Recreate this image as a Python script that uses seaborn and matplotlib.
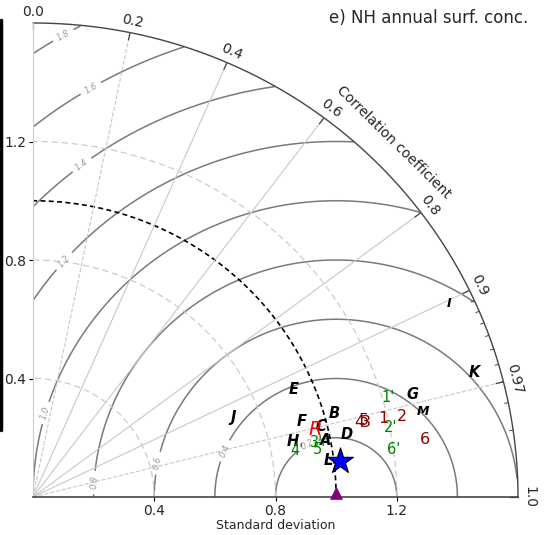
import numpy as np
import matplotlib.pyplot as plt
import seaborn as sns
from matplotlib.lines import Line2D

# models as black italic letters: normalised std and correlation with obs
letters = ['A', 'B', 'C', 'D', 'E', 'F', 'G', 'H', 'I', 'J', 'K', 'L', 'M']
letters_std = [0.985, 1.032, 0.979, 1.057, 0.934, 0.924, 1.298, 0.878, 1.520, 0.712, 1.514, 0.982, 1.319]
letters_corr = [0.981, 0.962, 0.970, 0.980, 0.922, 0.961, 0.964, 0.977, 0.903, 0.927, 0.961, 0.992, 0.976]

# dark red numbers
numbers = ['1', '2', '3', '4', '5', '6']
numbers_std = [1.185, 1.248, 1.127, 1.105, 1.120, 1.308]
numbers_corr = [0.975, 0.976, 0.975, 0.974, 0.973, 0.989]

# green primed numbers
primes = ["1'", "2'", "3'", "4'", "5'", "6'"]
primes_std = [1.220, 1.201, 0.952, 0.885, 0.957, 1.199]
primes_corr = [0.961, 0.981, 0.981, 0.984, 0.986, 0.991]

r_std, r_corr = 0.959, 0.971        # red R
mean_std, mean_corr = 1.020, 0.993  # blue star
obs_std = 1.0                       # reference (purple triangle)

smax = 1.6
std_grid = [0.4, 0.8, 1.2]
corr_labels = [0.0, 0.2, 0.4, 0.6, 0.8, 0.9, 0.97, 1.0]
corr_lines = [0.2, 0.4, 0.6, 0.8, 0.9, 0.97]
rms_levels = [0.2, 0.4, 0.6, 0.8, 1.0, 1.2, 1.4, 1.6, 1.8]
rms_label_angle = [118, 157, 169, 176.5, 163.5, 138.4, 126.8, 120.4, 120]


def xy(s, c):
    s = np.asarray(s, dtype=float)
    c = np.asarray(c, dtype=float)
    return s * c, s * np.sqrt(1 - c ** 2)


sns.set_style('white')
fig = plt.figure(figsize=(5.46, 5.35), dpi=100)
ax = fig.add_axes([33 / 546, 38 / 535, 485 / 546, 474 / 535])
ax.set_xlim(0, smax)
ax.set_ylim(0, smax)

th = np.linspace(0, np.pi / 2, 300)

# RMS difference contours around the reference
g = np.linspace(0, smax, 500)
X, Y = np.meshgrid(g, g)
rms = np.ma.masked_where(np.hypot(X, Y) > smax, np.hypot(X - obs_std, Y))
cs = ax.contour(X, Y, rms, levels=rms_levels, colors='#7a7a7a', linewidths=1.1)
pos = [(obs_std + r * np.cos(np.radians(a)), r * np.sin(np.radians(a)))
       for r, a in zip(rms_levels, rms_label_angle)]
lbls = ax.clabel(cs, fmt='%.1f', fontsize=6, colors='#9a9a9a', manual=pos)
for t in lbls:
    t.set_fontstyle('italic')

# std arcs
for s in std_grid:
    ax.plot(s * np.cos(th), s * np.sin(th), ls='--', color='#cccccc', lw=0.9, dashes=(5, 3))
ax.plot(obs_std * np.cos(th), obs_std * np.sin(th), ls='--', color='black', lw=1.2, dashes=(3, 2))
ax.plot(smax * np.cos(th), smax * np.sin(th), color='#444444', lw=1.0, clip_on=False)

# correlation rays
for c in corr_lines:
    x1, y1 = xy(smax, c)
    ls = '--' if c in (0.2, 0.97) else '-'
    ax.plot([0, x1], [0, y1], ls=ls, color='#c8c8c8', lw=0.8)

# ticks and labels on the outer arc
minor = list(np.arange(0.91, 1.0, 0.01))
for c in minor:
    xa, ya = xy([smax, smax - 0.012], [c, c])
    ax.plot(xa, ya, color='#444444', lw=0.7, clip_on=False)
for c in corr_labels:
    xa, ya = xy([smax, smax - 0.025], [c, c])
    ax.plot(xa, ya, color='#444444', lw=0.9, clip_on=False)
    lx, ly = xy(smax + 0.015, c)
    ang = np.degrees(np.arccos(c))
    ax.text(lx, ly, f'{c:g}' if c not in (0.0, 1.0) else f'{c:.1f}', rotation=ang - 90,
            rotation_mode='anchor', ha='center', va='bottom', fontsize=10, clip_on=False)
cx, cy = xy(1.69, 0.705)
ax.text(cx, cy, 'Correlation coefficient', rotation=-44.5, rotation_mode='anchor',
        ha='center', va='center', fontsize=10)

# markers
sx, sy = xy(mean_std, mean_corr)
sns.scatterplot(x=[sx], y=[sy], marker='*', s=380, color='blue', edgecolor='black',
                linewidth=0.8, ax=ax, zorder=5, legend=False)
sns.scatterplot(x=[obs_std], y=[0.012], marker='^', s=70, color='purple', edgecolor='purple',
                ax=ax, zorder=6, legend=False, clip_on=False)

lx, ly = xy(letters_std, letters_corr)
for n, a, b in zip(letters, lx, ly):
    fs = 9 if n in ('I', 'M') else 10.5
    ax.text(a, b, n, color='black', fontstyle='italic', fontweight='semibold', fontsize=fs,
            ha='center', va='center', zorder=4)
nx, ny = xy(numbers_std, numbers_corr)
for n, a, b in zip(numbers, nx, ny):
    ax.text(a, b, n, color='#8b0000', fontsize=11.5, ha='center', va='center', zorder=4)
px, py = xy(primes_std, primes_corr)
for n, a, b in zip(primes, px, py):
    ax.text(a, b, n, color='green', fontsize=10.5, ha='center', va='center', zorder=4)
rx, ry = xy(r_std, r_corr)
ax.text(rx, ry, 'R', color='red', fontstyle='italic', fontsize=14, ha='center', va='center', zorder=5)

# axes
ax.set_xticks(std_grid)
ax.set_yticks(std_grid)
ax.tick_params(labelsize=10, length=3, width=0.8, color='black', left=True, bottom=True, pad=2)
for sp in ('top', 'right'):
    ax.spines[sp].set_visible(False)
ax.spines['left'].set_color('#cccccc')
ax.spines['bottom'].set_color('#444444')
ax.spines['bottom'].set_linewidth(1.2)
ax.set_xlabel('Standard deviation', fontsize=9, labelpad=1)

fig.text(528 / 546, 1 - 18 / 535, 'e) NH annual surf. conc.', ha='right', va='center', fontsize=12)
fig.add_artist(Line2D([0.002, 0.002], [1 - 20 / 535, 1 - 430 / 535], color='black', lw=2.5))

fig.savefig('out.png', dpi=100)
